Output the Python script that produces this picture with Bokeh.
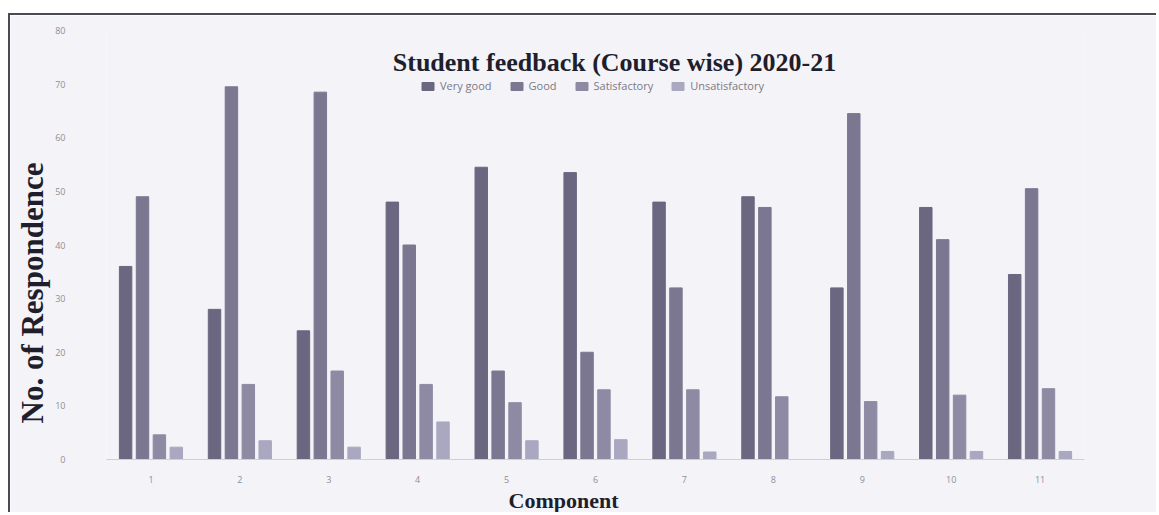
from bokeh.plotting import figure
from bokeh.models import FactorRange, Legend, LegendItem, Label, Title, FixedTicker
from bokeh.transform import dodge
from bokeh.embed import file_html
from bokeh.resources import INLINE

components = ["1", "2", "3", "4", "5", "6", "7", "8", "9", "10", "11"]
series = ["Very good", "Good", "Satisfactory", "Unsatisfactory"]
very_good = [36, 28, 24, 48, 54.5, 53.5, 48, 49, 32, 47, 34.5]
good = [49, 69.5, 68.5, 40, 16.5, 20, 32, 47, 64.5, 41, 50.5]
satisfactory = [4.6, 14, 16.5, 14, 10.6, 13, 13, 11.7, 10.8, 12, 13.2]
unsatisfactory = [2.3, 3.5, 2.3, 7, 3.5, 3.7, 1.4, 0, 1.5, 1.5, 1.5]
y_ticks = [0, 10, 20, 30, 40, 50, 60, 70, 80]

colors = ["#6c6780", "#7c7791", "#8f8aa4", "#aaa7c0"]
offsets = [-0.285, -0.095, 0.095, 0.285]
bg = "#f4f3f8"
ink = "#1e1e2c"

p = figure(width=1148, height=499, x_range=FactorRange(factors=components),
           y_range=(0, 80), output_backend="svg", toolbar_location=None,
           min_border_left=93, min_border_right=74, min_border_top=15,
           min_border_bottom=55)
p.background_fill_color = bg
p.border_fill_color = bg
p.outline_line_color = None
p.styles = {"margin-left": "8px", "margin-top": "13px",
            "border-top": "2px solid #4a4a55", "border-left": "2px solid #4a4a55"}

data = dict(comp=components, vg=very_good, g=good, s=satisfactory, u=unsatisfactory)
keys = ["vg", "g", "s", "u"]
renderers = []
for k, off, c in zip(keys, offsets, colors):
    r = p.vbar(x=dodge("comp", off, range=p.x_range), top=k, width=0.14,
               source=data, fill_color=c, line_color=c)
    renderers.append(r)

legend = Legend(items=[LegendItem(label=s, renderers=[r]) for s, r in zip(series, renderers)],
                orientation="horizontal", location=(314, 366))
legend.border_line_alpha = 0
legend.background_fill_alpha = 0
legend.padding = 0
legend.margin = 0
legend.spacing = 17
legend.label_standoff = 5
legend.glyph_width = 15
legend.glyph_height = 10
legend.label_height = 10
legend.label_text_font_size = "11px"
legend.label_text_font = "Open Sans"
legend.label_text_color = "#7a7a85"
p.add_layout(legend, "center")

p.add_layout(Label(x=508, y=397, x_units="screen", y_units="screen",
                   text="Student feedback (Course wise) 2020-21",
                   text_align="center", text_baseline="middle",
                   text_font="Liberation Serif", text_font_size="26px",
                   text_font_style="bold", text_color=ink))

p.xgrid.grid_line_color = None
p.ygrid.grid_line_color = None

p.yaxis.ticker = FixedTicker(ticks=y_ticks)
p.yaxis.axis_line_color = None
p.yaxis.major_tick_line_color = None
p.yaxis.minor_tick_line_color = None
p.yaxis.major_label_standoff = 35
p.yaxis.major_label_text_font = "Open Sans"
p.yaxis.major_label_text_font_size = "9px"
p.yaxis.major_label_text_color = "#8e8e98"

p.xaxis.axis_line_color = "#cfcfd6"
p.xaxis.major_tick_line_color = None
p.xaxis.minor_tick_line_color = None
p.xaxis.major_label_standoff = 10
p.xaxis.major_label_text_font = "Open Sans"
p.xaxis.major_label_text_font_size = "9px"
p.xaxis.major_label_text_color = "#8e8e98"

p.add_layout(Title(text="Component", align="left", offset=402,
                   text_font="Liberation Serif", text_font_size="22px",
                   text_font_style="bold", text_color=ink, standoff=0), "below")

p.add_layout(Title(text="No. of Respondence", align="left", offset=36,
                   text_font="Liberation Serif", text_font_size="31px",
                   text_font_style="bold", text_color=ink, standoff=5), "left")

open("out.html", "w").write(file_html(p, INLINE))
